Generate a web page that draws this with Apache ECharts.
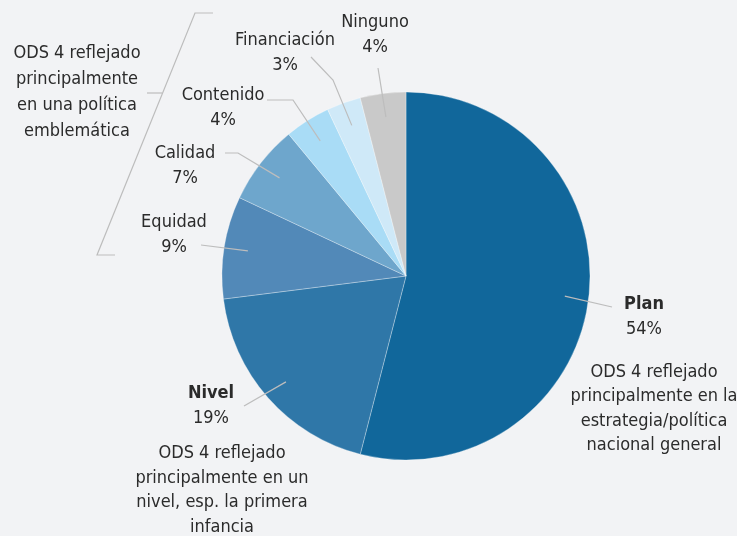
<!DOCTYPE html>
<html>
<head>
<meta charset="utf-8">
<script src="https://cdn.jsdelivr.net/npm/echarts@6/dist/echarts.min.js"></script>
<style>
  html, body { margin: 0; padding: 0; background: #f2f3f5; }
  #main { width: 737px; height: 536px; }
</style>
</head>
<body>
<div id="main"></div>
<script>
// data
var categories = ['Plan', 'Nivel', 'Equidad', 'Calidad', 'Contenido', 'Financiación', 'Ninguno'];
var shares = [54, 19, 9, 7, 4, 3, 4];
var colors = ['#11679b', '#2f77a8', '#5289b8', '#6ea6cc', '#a9dcf6', '#cfe9f8', '#c9c9c9'];
var boldNames = ['Plan', 'Nivel'];

var planNote = ['ODS 4 reflejado', 'principalmente en la', 'estrategia/política', 'nacional general'];
var nivelNote = ['ODS 4 reflejado', 'principalmente en un', 'nivel, esp. la primera', 'infancia'];
var flagshipNote = ['ODS 4 reflejado', 'principalmente', 'en una política', 'emblemática'];

var FONT = "'Liberation Sans Narrow', 'DejaVu Sans Condensed', 'Open Sans', sans-serif";
var TXT = '#2b2b2b';
var LINE = '#bdbdbd';

var cx = 406, cy = 276, R = 184;

// where each label sits and the bends of its leader line
var labelPos = [
  { x: 644, y: 317, bend: [[612, 307]] },
  { x: 211, y: 406, bend: [[244, 406]] },
  { x: 174, y: 235, bend: [[201, 245]] },
  { x: 185, y: 166, bend: [[238, 153], [225, 153]] },
  { x: 223, y: 108, bend: [[293, 100], [267, 100]] },
  { x: 285, y: 53, bend: [[333, 80], [311, 57]] },
  { x: 375, y: 35, bend: [[378, 68]] }
];

var total = shares.reduce(function (a, b) { return a + b; }, 0);
var midAngles = [];
var acc = 0;
shares.forEach(function (v) {
  midAngles.push((acc + v / 2) / total * Math.PI * 2);
  acc += v;
});

var chart = echarts.init(document.getElementById('main'));

var pieBase = {
  type: 'pie',
  center: [cx, cy],
  radius: [0, R],
  startAngle: 90,
  clockwise: true,
  silent: true
};

var option = {
  backgroundColor: '#f2f3f5',
  animation: false,
  series: [
    // the slices
    Object.assign({}, pieBase, {
      z: 2,
      itemStyle: { borderColor: 'rgba(255,255,255,0.5)', borderWidth: 0.6 },
      label: { show: false },
      labelLine: { show: false },
      data: categories.map(function (c, i) {
        return { name: c, value: shares[i], itemStyle: { color: colors[i] } };
      })
    }),
    // transparent copy on top that carries the labels and leader lines
    Object.assign({}, pieBase, {
      z: 4,
      avoidLabelOverlap: false,
      itemStyle: { color: 'rgba(0,0,0,0)', borderWidth: 0 },
      label: {
        show: true,
        position: 'outside',
        formatter: function (p) {
          var key = boldNames.indexOf(p.name) >= 0 ? 'nb' : 'n';
          return '{' + key + '|' + p.name + '}\n{v|' + p.value + '%}';
        },
        rich: {
          n: { fontFamily: FONT, fontSize: 18, color: TXT, lineHeight: 25 },
          nb: { fontFamily: FONT, fontSize: 18, fontWeight: 'bold', color: TXT, lineHeight: 25 },
          v: { fontFamily: FONT, fontSize: 18, color: TXT, lineHeight: 25 }
        }
      },
      labelLine: { show: true, lineStyle: { color: LINE, width: 1.2 } },
      labelLayout: function (params) {
        var i = params.dataIndex;
        var a = midAngles[i];
        var start = [cx + Math.sin(a) * R * 0.87, cy - Math.cos(a) * R * 0.87];
        var pos = labelPos[i];
        return {
          x: pos.x,
          y: pos.y,
          align: 'center',
          verticalAlign: 'middle',
          labelLinePoints: [start].concat(pos.bend)
        };
      },
      data: categories.map(function (c, i) {
        return { name: c, value: shares[i] };
      })
    })
  ],
  graphic: [
    {
      type: 'polyline',
      shape: { points: [[213, 13], [195, 13], [97, 255], [115, 255]] },
      style: { stroke: LINE, lineWidth: 1.2, fill: null }
    },
    {
      type: 'line',
      shape: { x1: 147, y1: 93, x2: 162, y2: 93 },
      style: { stroke: LINE, lineWidth: 1.2 }
    },
    {
      type: 'text', x: 77, y: 40,
      style: { text: flagshipNote.join('\n'), font: '18px ' + FONT, fill: TXT, align: 'center', verticalAlign: 'top', lineHeight: 26 }
    },
    {
      type: 'text', x: 654, y: 360,
      style: { text: planNote.join('\n'), font: '18px ' + FONT, fill: TXT, align: 'center', verticalAlign: 'top', lineHeight: 24.5 }
    },
    {
      type: 'text', x: 222, y: 441,
      style: { text: nivelNote.join('\n'), font: '18px ' + FONT, fill: TXT, align: 'center', verticalAlign: 'top', lineHeight: 24.6 }
    }
  ]
};

chart.setOption(option);
</script>
</body>
</html>
